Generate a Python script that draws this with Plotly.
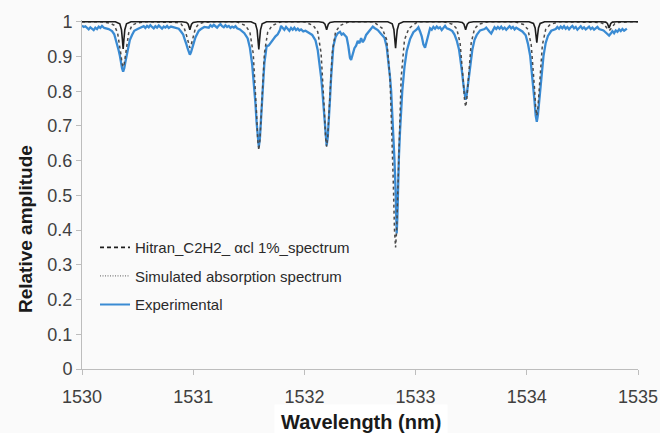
import plotly.graph_objects as go

# ---- HITRAN reference line list (C2H2, 1 % concentration) ----
hitran_points = [
    (1530.00, 1.000),
    (1530.30, 1.000), (1530.34, 0.994), (1530.355, 0.977), (1530.363, 0.949), (1530.37, 0.922),
    (1530.377, 0.949), (1530.385, 0.977), (1530.40, 0.994), (1530.44, 1.000),
    (1530.90, 1.000), (1530.94, 0.998), (1530.955, 0.993), (1530.963, 0.985), (1530.97, 0.977),
    (1530.977, 0.985), (1530.985, 0.993), (1531.00, 0.998), (1531.04, 1.000),
    (1531.52, 1.000), (1531.56, 0.994), (1531.575, 0.976), (1531.583, 0.948), (1531.59, 0.920),
    (1531.597, 0.948), (1531.605, 0.976), (1531.62, 0.994), (1531.66, 1.000),
    (1532.13, 1.000), (1532.17, 0.998), (1532.185, 0.993), (1532.193, 0.985), (1532.20, 0.977),
    (1532.207, 0.985), (1532.215, 0.993), (1532.23, 0.998), (1532.27, 1.000),
    (1532.75, 1.000), (1532.79, 0.994), (1532.805, 0.977), (1532.813, 0.951), (1532.82, 0.924),
    (1532.827, 0.951), (1532.835, 0.977), (1532.85, 0.994), (1532.89, 1.000),
    (1533.38, 1.000), (1533.42, 0.998), (1533.435, 0.993), (1533.443, 0.985), (1533.45, 0.977),
    (1533.457, 0.985), (1533.465, 0.993), (1533.48, 0.998), (1533.52, 1.000),
    (1534.02, 1.000), (1534.06, 0.995), (1534.075, 0.982), (1534.083, 0.961), (1534.09, 0.940),
    (1534.097, 0.961), (1534.105, 0.982), (1534.12, 0.995), (1534.16, 1.000),
    (1534.67, 1.000), (1534.71, 0.999), (1534.725, 0.995), (1534.733, 0.988), (1534.74, 0.982),
    (1534.747, 0.988), (1534.755, 0.995), (1534.77, 0.999), (1534.81, 1.000),
    (1535.00, 1.000),
]

# ---- simulated absorption spectrum ----
simulated_points = [
    (1530.00, 1.000),
    (1530.17, 1.000), (1530.25, 0.996), (1530.29, 0.990), (1530.32, 0.968), (1530.335, 0.942),
    (1530.35, 0.906), (1530.36, 0.880), (1530.37, 0.870), (1530.38, 0.880), (1530.39, 0.906),
    (1530.405, 0.942), (1530.42, 0.968), (1530.45, 0.990), (1530.49, 0.996), (1530.57, 1.000),
    (1530.77, 1.000), (1530.85, 0.998), (1530.89, 0.994), (1530.92, 0.981), (1530.935, 0.966),
    (1530.95, 0.946), (1530.96, 0.931), (1530.97, 0.925), (1530.98, 0.931), (1530.99, 0.946),
    (1531.005, 0.966), (1531.02, 0.981), (1531.05, 0.994), (1531.09, 0.998), (1531.17, 1.000),
    (1531.39, 1.000), (1531.47, 0.989), (1531.51, 0.970), (1531.54, 0.908), (1531.555, 0.834),
    (1531.57, 0.734), (1531.58, 0.660), (1531.59, 0.630), (1531.60, 0.660), (1531.61, 0.734),
    (1531.625, 0.834), (1531.64, 0.908), (1531.67, 0.970), (1531.71, 0.989), (1531.79, 1.000),
    (1532.00, 1.000), (1532.08, 0.989), (1532.12, 0.971), (1532.15, 0.910), (1532.165, 0.838),
    (1532.18, 0.741), (1532.19, 0.669), (1532.20, 0.640), (1532.21, 0.669), (1532.22, 0.741),
    (1532.235, 0.838), (1532.25, 0.910), (1532.28, 0.971), (1532.32, 0.989), (1532.40, 1.000),
    (1532.62, 1.000), (1532.70, 0.981), (1532.74, 0.948), (1532.77, 0.838), (1532.785, 0.708),
    (1532.80, 0.532), (1532.81, 0.402), (1532.82, 0.350), (1532.83, 0.402), (1532.84, 0.532),
    (1532.855, 0.708), (1532.87, 0.838), (1532.90, 0.948), (1532.94, 0.981), (1533.02, 1.000),
    (1533.25, 1.000), (1533.33, 0.993), (1533.37, 0.980), (1533.40, 0.939), (1533.415, 0.890),
    (1533.43, 0.824), (1533.44, 0.775), (1533.45, 0.755), (1533.46, 0.775), (1533.47, 0.824),
    (1533.485, 0.890), (1533.50, 0.939), (1533.53, 0.980), (1533.57, 0.993), (1533.65, 1.000),
    (1533.89, 1.000), (1533.97, 0.992), (1534.01, 0.978), (1534.04, 0.933), (1534.055, 0.879),
    (1534.07, 0.806), (1534.08, 0.752), (1534.09, 0.730), (1534.10, 0.752), (1534.11, 0.806),
    (1534.125, 0.879), (1534.14, 0.933), (1534.17, 0.978), (1534.21, 0.992), (1534.29, 1.000),
    (1534.54, 1.000), (1534.62, 0.999), (1534.66, 0.998), (1534.69, 0.994), (1534.705, 0.989),
    (1534.72, 0.982), (1534.73, 0.977), (1534.74, 0.975), (1534.75, 0.977), (1534.76, 0.982),
    (1534.775, 0.989), (1534.79, 0.994), (1534.82, 0.998), (1534.86, 0.999), (1534.94, 1.000),
    (1535.00, 1.000),
]

# ---- measured transmission ----
experimental_points = [
    # 1530.00 - 1530.20
    (1530.000, 0.989), (1530.015, 0.985), (1530.030, 0.987), (1530.045, 0.981), (1530.060, 0.978),
    (1530.075, 0.984), (1530.090, 0.980), (1530.105, 0.976), (1530.120, 0.983), (1530.135, 0.979),
    (1530.150, 0.986), (1530.165, 0.982), (1530.180, 0.988),
    # line at 1530.37
    (1530.200, 0.982), (1530.240, 0.979), (1530.270, 0.973), (1530.290, 0.964), (1530.310, 0.944),
    (1530.320, 0.934), (1530.330, 0.917), (1530.340, 0.903), (1530.350, 0.881), (1530.360, 0.866),
    (1530.370, 0.856), (1530.380, 0.866), (1530.390, 0.884), (1530.400, 0.901), (1530.410, 0.920),
    (1530.420, 0.932), (1530.430, 0.947), (1530.450, 0.962), (1530.470, 0.974), (1530.500, 0.979),
    (1530.540, 0.984),
    (1530.555, 0.987), (1530.570, 0.982), (1530.585, 0.988), (1530.600, 0.984), (1530.615, 0.990),
    (1530.630, 0.985), (1530.645, 0.981), (1530.660, 0.987), (1530.675, 0.983), (1530.690, 0.989),
    (1530.705, 0.985), (1530.720, 0.980), (1530.735, 0.986), (1530.750, 0.983), (1530.765, 0.988),
    (1530.780, 0.982),
    # line at 1530.97
    (1530.800, 0.986), (1530.840, 0.983), (1530.870, 0.980), (1530.890, 0.972), (1530.910, 0.963),
    (1530.920, 0.953), (1530.930, 0.946), (1530.940, 0.934), (1530.950, 0.923), (1530.960, 0.910),
    (1530.970, 0.905), (1530.980, 0.912), (1530.990, 0.921), (1531.000, 0.936), (1531.010, 0.944),
    (1531.020, 0.955), (1531.030, 0.961), (1531.050, 0.974), (1531.070, 0.979), (1531.100, 0.985),
    (1531.140, 0.983),
    (1531.155, 0.990), (1531.170, 0.986), (1531.185, 0.991), (1531.200, 0.987), (1531.215, 0.983),
    (1531.230, 0.989), (1531.245, 0.993), (1531.260, 0.987), (1531.275, 0.984), (1531.290, 0.990),
    (1531.305, 0.985), (1531.320, 0.988), (1531.335, 0.982), (1531.350, 0.986), (1531.365, 0.983),
    (1531.380, 0.987), (1531.395, 0.981),
    # line at 1531.59
    (1531.420, 0.978), (1531.460, 0.967), (1531.490, 0.952), (1531.510, 0.925), (1531.530, 0.878),
    (1531.540, 0.846), (1531.550, 0.807), (1531.560, 0.764), (1531.570, 0.711), (1531.580, 0.665),
    (1531.590, 0.640), (1531.600, 0.665), (1531.610, 0.711), (1531.620, 0.771), (1531.630, 0.829),
    (1531.640, 0.881), (1531.650, 0.914), (1531.660, 0.929), (1531.680, 0.932), (1531.700, 0.941),
    (1531.720, 0.947), (1531.740, 0.958), (1531.760, 0.964), (1531.780, 0.976), (1531.790, 0.988),
    (1531.805, 0.981), (1531.820, 0.977), (1531.835, 0.985), (1531.850, 0.980), (1531.865, 0.974),
    (1531.880, 0.982), (1531.895, 0.977), (1531.910, 0.983), (1531.925, 0.976), (1531.940, 0.980),
    (1531.955, 0.975),
    # line at 1532.20 and its weak neighbours
    (1531.970, 0.978), (1531.990, 0.972), (1532.010, 0.974), (1532.030, 0.969), (1532.050, 0.966),
    (1532.070, 0.962), (1532.100, 0.946), (1532.120, 0.918), (1532.140, 0.876), (1532.150, 0.841),
    (1532.160, 0.807), (1532.170, 0.762), (1532.180, 0.714), (1532.190, 0.665), (1532.200, 0.643),
    (1532.210, 0.667), (1532.220, 0.712), (1532.230, 0.776), (1532.240, 0.839), (1532.250, 0.896),
    (1532.260, 0.929), (1532.280, 0.956), (1532.300, 0.967), (1532.320, 0.971), (1532.335, 0.963),
    (1532.350, 0.966), (1532.365, 0.959), (1532.380, 0.955), (1532.395, 0.930), (1532.410, 0.896),
    (1532.420, 0.890), (1532.435, 0.905), (1532.450, 0.924), (1532.465, 0.931), (1532.480, 0.945),
    (1532.495, 0.938), (1532.510, 0.953), (1532.525, 0.941), (1532.540, 0.949), (1532.555, 0.962),
    (1532.570, 0.968), (1532.585, 0.975), (1532.600, 0.979), (1532.615, 0.986), (1532.630, 0.982),
    (1532.645, 0.978),
    # line at 1532.82
    (1532.660, 0.976), (1532.690, 0.965), (1532.720, 0.954), (1532.740, 0.928), (1532.760, 0.877),
    (1532.770, 0.840), (1532.780, 0.801), (1532.790, 0.743), (1532.800, 0.680), (1532.810, 0.602),
    (1532.820, 0.515), (1532.826, 0.432), (1532.830, 0.390), (1532.836, 0.436), (1532.840, 0.510),
    (1532.850, 0.612), (1532.860, 0.685), (1532.870, 0.745), (1532.880, 0.800), (1532.900, 0.870),
    (1532.920, 0.915), (1532.950, 0.950), (1532.980, 0.970), (1533.010, 0.978), (1533.025, 0.984),
    (1533.040, 0.972), (1533.055, 0.958), (1533.070, 0.935), (1533.085, 0.925), (1533.100, 0.944),
    (1533.115, 0.968), (1533.130, 0.981), (1533.145, 0.977), (1533.160, 0.985), (1533.175, 0.980),
    (1533.190, 0.986), (1533.205, 0.981), (1533.220, 0.984), (1533.235, 0.976), (1533.250, 0.982),
    (1533.265, 0.988), (1533.280, 0.981),
    # line at 1533.45
    (1533.300, 0.979), (1533.330, 0.973), (1533.350, 0.963), (1533.370, 0.946), (1533.390, 0.921),
    (1533.400, 0.898), (1533.410, 0.877), (1533.420, 0.849), (1533.430, 0.819), (1533.440, 0.788),
    (1533.450, 0.775), (1533.460, 0.790), (1533.470, 0.817), (1533.480, 0.851), (1533.490, 0.875),
    (1533.500, 0.901), (1533.510, 0.919), (1533.530, 0.948), (1533.550, 0.962), (1533.580, 0.975),
    (1533.620, 0.979),
    (1533.635, 0.983), (1533.650, 0.976), (1533.665, 0.971), (1533.680, 0.966), (1533.695, 0.975),
    (1533.710, 0.984), (1533.725, 0.979), (1533.740, 0.985), (1533.755, 0.980), (1533.770, 0.986),
    (1533.785, 0.979), (1533.800, 0.983), (1533.815, 0.977), (1533.830, 0.982), (1533.845, 0.987),
    (1533.860, 0.981), (1533.875, 0.985), (1533.890, 0.978), (1533.905, 0.983),
    # line at 1534.09
    (1533.920, 0.980), (1533.960, 0.972), (1533.990, 0.961), (1534.010, 0.937), (1534.030, 0.903),
    (1534.040, 0.874), (1534.050, 0.846), (1534.060, 0.809), (1534.070, 0.770), (1534.080, 0.730),
    (1534.090, 0.712), (1534.100, 0.732), (1534.110, 0.768), (1534.120, 0.811), (1534.130, 0.844),
    (1534.140, 0.876), (1534.150, 0.901), (1534.170, 0.939), (1534.190, 0.959), (1534.220, 0.974),
    (1534.260, 0.979),
    (1534.275, 0.985), (1534.290, 0.980), (1534.305, 0.986), (1534.320, 0.981), (1534.335, 0.987),
    (1534.350, 0.980), (1534.365, 0.985), (1534.380, 0.978), (1534.395, 0.984), (1534.410, 0.988),
    (1534.425, 0.981), (1534.440, 0.985), (1534.455, 0.977), (1534.470, 0.983), (1534.485, 0.987),
    (1534.500, 0.980), (1534.515, 0.984), (1534.530, 0.978), (1534.545, 0.983), (1534.560, 0.986),
    (1534.575, 0.979), (1534.590, 0.983), (1534.605, 0.977), (1534.620, 0.982), (1534.635, 0.985),
    (1534.650, 0.979),
    # weak line at 1534.74
    (1534.670, 0.978), (1534.690, 0.975), (1534.710, 0.969), (1534.725, 0.964), (1534.740, 0.960),
    (1534.755, 0.966), (1534.770, 0.973), (1534.785, 0.967), (1534.800, 0.975), (1534.815, 0.971),
    (1534.830, 0.978), (1534.845, 0.973), (1534.860, 0.979), (1534.875, 0.974), (1534.900, 0.980),
]

hitran_nm, hitran_amp = map(list, zip(*hitran_points))
simulated_nm, simulated_amp = map(list, zip(*simulated_points))
experimental_nm, experimental_amp = map(list, zip(*experimental_points))

series_names = ["Hitran_C2H2_ \u03b1cl 1%_spectrum", "Simulated absorption spectrum", "Experimental"]
x_ticks = [1530, 1531, 1532, 1533, 1534, 1535]
y_ticks = [0, 0.1, 0.2, 0.3, 0.4, 0.5, 0.6, 0.7, 0.8, 0.9, 1]

BLUE = "#3a8bd3"
FONT = "Liberation Sans, Arial, sans-serif"
AXIS_GREY = "#bdbdbd"

fig = go.Figure()

# measured curve underneath, model curves on top
fig.add_trace(go.Scatter(x=experimental_nm, y=experimental_amp, mode="lines",
                         line=dict(color=BLUE, width=2.3), showlegend=False))
fig.add_trace(go.Scatter(x=simulated_nm, y=simulated_amp, mode="lines",
                         line=dict(color="#4a4a4a", width=1.5, dash="dot"), showlegend=False))
fig.add_trace(go.Scatter(x=hitran_nm, y=hitran_amp, mode="lines",
                         line=dict(color="#1e1e1e", width=1.6), showlegend=False))

# legend entries
legend_styles = [
    dict(color="#1e1e1e", width=1.6, dash="4px,3px"),
    dict(color="#7a7a7a", width=1.4, dash="1px,1.5px"),
    dict(color=BLUE, width=2),
]
for i, (name, style) in enumerate(zip(series_names, legend_styles)):
    fig.add_trace(go.Scatter(x=[None], y=[None], mode="lines", name=name,
                             line=style, legendgroup=f"g{i}"))

fig.update_layout(
    template="none",
    width=660, height=433,
    autosize=False,
    margin=dict(l=82, r=22, t=20, b=64, pad=0),
    paper_bgcolor="#fafafa",
    plot_bgcolor="#fafafa",
    font=dict(family=FONT, color="#404040"),
    showlegend=True,
    legend=dict(x=0.0234, y=0.395, xanchor="left", yanchor="top",
                bgcolor="rgba(0,0,0,0)", font=dict(size=15, color="#2a2a2a"),
                tracegroupgap=6, traceorder="grouped"),
    xaxis=dict(range=[1530, 1535], tickvals=x_ticks, showgrid=False, zeroline=False,
               automargin=False,
               showline=True, linecolor=AXIS_GREY, linewidth=1,
               ticks="outside", ticklen=5, tickcolor=AXIS_GREY,
               tickfont=dict(size=18, color="#404040"), ticklabelstandoff=6),
    yaxis=dict(range=[0, 1.005], tickvals=y_ticks, showgrid=False, zeroline=False,
               automargin=False,
               showline=True, linecolor=AXIS_GREY, linewidth=1,
               ticks="outside", ticklen=5, tickcolor=AXIS_GREY,
               tickfont=dict(size=18, color="#404040")),
    annotations=[
        dict(text="Wavelength (nm)", xref="paper", yref="paper", x=0.502, y=-0.152,
             xanchor="center", yanchor="middle", showarrow=False,
             font=dict(size=20, color="#1a1a1a", family=FONT, weight="bold"),
             bgcolor="#ffffff", borderpad=6),
        dict(text="Relative amplitude", xref="paper", yref="paper", x=-0.1025, y=0.401,
             xanchor="center", yanchor="middle", textangle=-90, showarrow=False,
             font=dict(size=19, color="#1a1a1a", family=FONT, weight="bold")),
    ],
)

fig.write_html("out.html")
